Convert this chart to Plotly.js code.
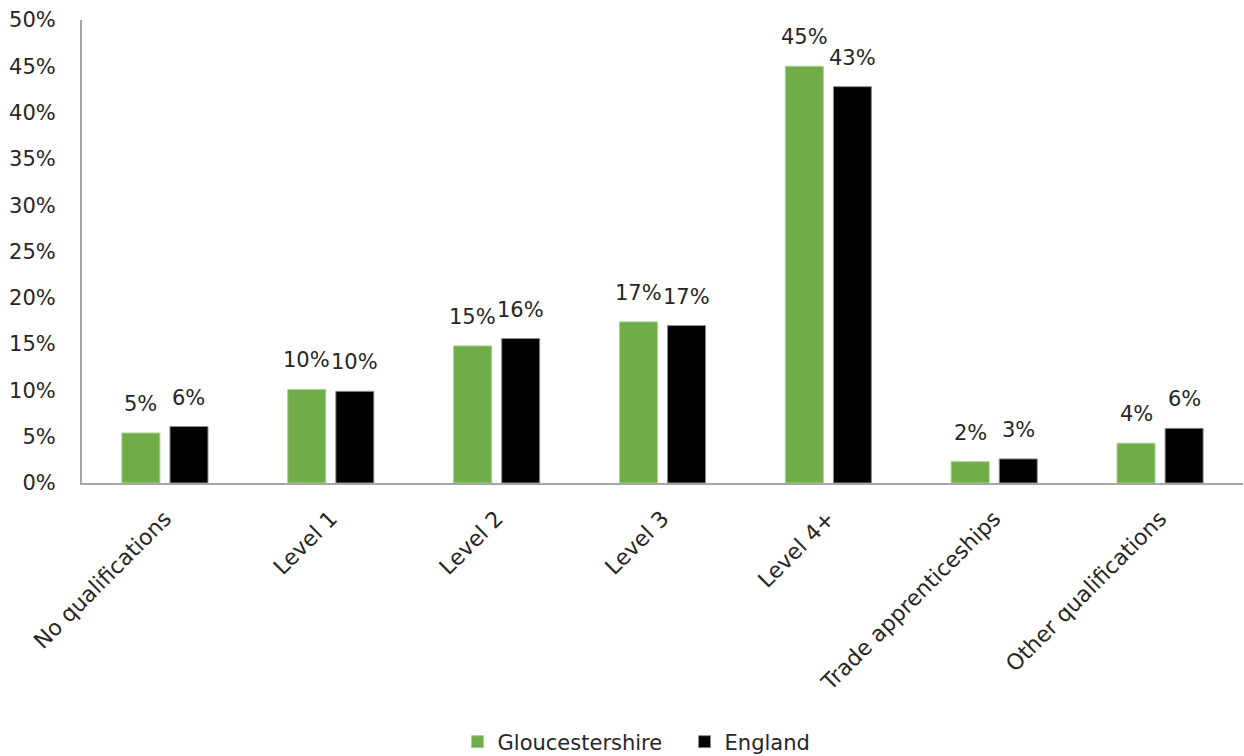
<!DOCTYPE html>
<html>
<head>
<meta charset="utf-8">
<script src="https://cdn.plot.ly/plotly-3.0.1.min.js"></script>
<style>html,body{margin:0;padding:0;background:#fff;}#chart{width:1244px;height:756px;}</style>
</head>
<body>
<div id="chart"></div>
<script>
const categories = ["No qualifications", "Level 1", "Level 2", "Level 3", "Level 4+", "Trade apprenticeships", "Other qualifications"];
const gloucestershire = [5.4, 10.1, 14.8, 17.4, 45.0, 2.3, 4.3];
const england = [6.1, 9.9, 15.6, 17.0, 42.8, 2.6, 5.9];
const yTickVals = [0, 5, 10, 15, 20, 25, 30, 35, 40, 45, 50];
const yTickText = ["0%", "5%", "10%", "15%", "20%", "25%", "30%", "35%", "40%", "45%", "50%"];

const font = "'DejaVu Sans', sans-serif";
const textColor = "#262626";
const fs = 21;

const traces = [
  {
    type: "bar", name: "Gloucestershire", x: categories, y: gloucestershire,
    marker: {color: "#70AD47", line: {color: "#a9d18e", width: 1}}, hoverinfo: "x+y"
  },
  {
    type: "bar", name: "England", x: categories, y: england,
    marker: {color: "#000000", line: {color: "#8c8c8c", width: 1}}, hoverinfo: "x+y"
  }
];

// value labels above each bar (offset left/right to sit over each bar of the group)
const annotations = [];
[[gloucestershire, -24], [england, 24]].forEach(([vals, dx]) => {
  vals.forEach((v, i) => {
    annotations.push({
      x: categories[i], y: v, xref: "x", yref: "y",
      text: Math.round(v) + "%", showarrow: false,
      xanchor: "center", yanchor: "bottom", xshift: dx, yshift: 15,
      font: {family: font, size: fs, color: textColor}
    });
  });
});

const layout = {
  width: 1244, height: 756,
  margin: {l: 82, r: 1, t: 20, b: 273},
  paper_bgcolor: "#fff", plot_bgcolor: "#fff",
  font: {family: font, size: fs, color: textColor},
  barmode: "group", bargap: 0.42, bargroupgap: 0.21,
  showlegend: true,
  legend: {orientation: "h", x: 0.519, xanchor: "center", xref: "paper",
           yref: "container", y: 0.0185, yanchor: "middle", entrywidth: 182,
           font: {family: font, size: fs, color: textColor}, traceorder: "normal"},
  annotations: annotations,
  xaxis: {
    type: "category", showline: true, linecolor: "#a6a6a6", linewidth: 2,
    ticks: "", tickangle: -45, tickfont: {family: font, size: 22, color: textColor},
    ticklabelstandoff: 12, automargin: false,
    showgrid: false, zeroline: false, fixedrange: true
  },
  yaxis: {
    range: [0, 50], tickvals: yTickVals, ticktext: yTickText,
    showline: true, linecolor: "#a6a6a6", linewidth: 2, ticks: "",
    showgrid: false, zeroline: false, tickfont: {family: font, size: fs, color: textColor},
    ticklabelstandoff: 20, automargin: false, fixedrange: true
  }
};

Plotly.newPlot("chart", traces, layout, {displayModeBar: false, staticPlot: true});
</script>
</body>
</html>
